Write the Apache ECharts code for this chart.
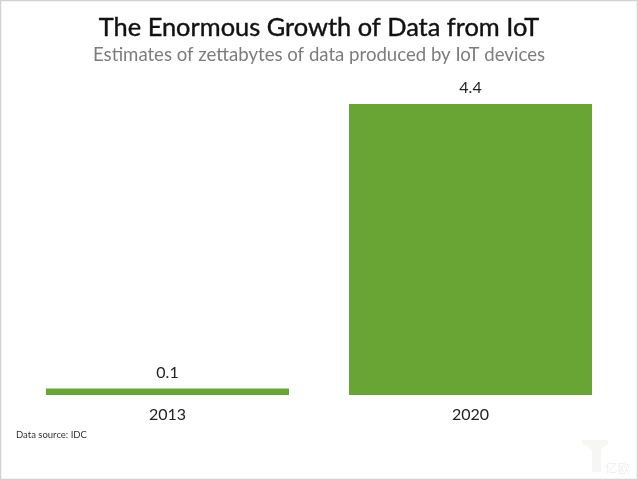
<!DOCTYPE html>
<html lang="en">
<head>
    <meta charset="UTF-8">
    <title>The Enormous Growth of Data from IoT</title>
    <script src="https://cdn.jsdelivr.net/npm/echarts@6/dist/echarts.min.js"></script>
    <style>
        html, body { margin: 0; padding: 0; background: #fff; }
        #main { width: 638px; height: 480px; }
    </style>
</head>
<body>
<div id="main"></div>

<script>
    var categories = ['2013', '2020'];
    var zettabytes = [0.1, 4.4];
    var titleText = 'The Enormous Growth of Data from IoT';
    var subtitleText = 'Estimates of zettabytes of data produced by IoT devices';
    var sourceText = 'Data source: IDC';
    var watermarkText = '亿欧';

    var myChart = echarts.init(document.getElementById('main'));
    var option = {
        backgroundColor: '#fff',
        animation: false,
        title: [
            {
                text: titleText,
                left: 314, top: 10, textAlign: 'center',
                textStyle: {
                    fontFamily: 'Lato', fontSize: 25.4, fontWeight: 'normal', color: '#111',
                    textBorderColor: '#111', textBorderWidth: 0.4
                }
            },
            {
                text: subtitleText,
                left: 314, top: 40, textAlign: 'center',
                textStyle: { fontFamily: 'Lato', fontSize: 18.6, fontWeight: 'normal', color: '#7c7c7c' }
            },
            {
                text: sourceText,
                left: 11, top: 425,
                textStyle: { fontFamily: 'Lato', fontSize: 9.5, fontWeight: 'normal', color: '#333' }
            }
        ],
        grid: { left: 16, right: 16, top: 104, bottom: 85 },
        xAxis: {
            type: 'category',
            data: categories,
            axisLine: { show: false },
            axisTick: { show: false },
            axisLabel: { fontFamily: 'Lato', fontSize: 16, color: '#222', margin: 12 }
        },
        yAxis: {
            type: 'value',
            min: 0,
            max: 4.4,
            show: false
        },
        series: [{
            type: 'bar',
            data: zettabytes,
            barWidth: 243,
            itemStyle: { color: '#69a535' },
            label: {
                show: true,
                position: 'top',
                distance: 8,
                fontFamily: 'Lato',
                fontSize: 16,
                color: '#222',
                formatter: function (p) { return p.value.toFixed(1); }
            }
        }],
        graphic: [
            // 图片外框
            {
                type: 'rect',
                shape: { x: 0.5, y: 0.5, width: 637, height: 479 },
                style: { fill: 'none', stroke: '#d2d2d2', lineWidth: 1.5 },
                silent: true
            },
            // 水印
            {
                type: 'polygon',
                shape: { points: [[582, 440], [608, 440], [608, 444], [601, 449], [601, 472], [592, 472], [592, 451], [588, 446], [582, 444]] },
                style: { fill: '#f6f6f3' },
                silent: true
            },
            {
                type: 'text',
                left: 605, top: 462,
                style: { text: watermarkText, fontFamily: 'Noto Sans CJK SC', fontSize: 12.5, fill: '#efefef' },
                silent: true
            }
        ]
    };
    myChart.setOption(option);
</script>
</body>
</html>
